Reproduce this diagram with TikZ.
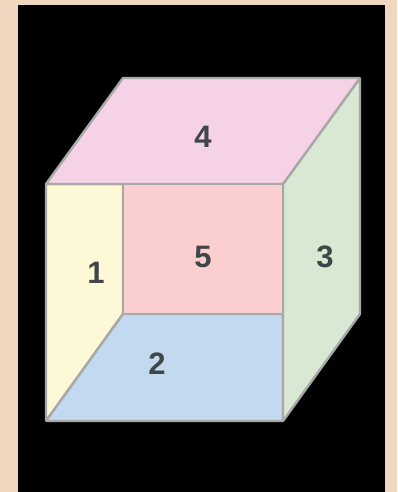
\documentclass[tikz,border=0pt]{standalone}
\usepackage{fontspec}
\setmainfont{Liberation Sans}
\definecolor{page}{HTML}{F0D8C0}
\definecolor{edge}{HTML}{A8A8A8}
\definecolor{digit}{HTML}{3F4648}
\definecolor{faceone}{HTML}{FDF8D6}
\definecolor{facetwo}{HTML}{C3D9F0}
\definecolor{facethree}{HTML}{D8E8D2}
\definecolor{facefour}{HTML}{F5D2E5}
\definecolor{facefive}{HTML}{FBCFD0}
\tikzset{face/.style={draw=edge,line width=2.4pt,line join=bevel},
  facelabel/.style={text=digit,font=\fontsize{31}{31}\selectfont\bfseries,inner sep=0pt}}
\begin{document}
\begin{tikzpicture}[x=1pt,y=-1pt]
\useasboundingbox (0,0) rectangle (397,492);
\fill[page] (0,0) rectangle (397,492);
\fill[black] (18,5) rectangle (385,492);
\coordinate (ftl) at (46,184);\coordinate (ftr) at (283,184);
\coordinate (fbl) at (46,421);\coordinate (fbr) at (283,421);
\coordinate (btl) at (123,78);\coordinate (btr) at (360,78);
\coordinate (bbl) at (123,314);\coordinate (bbr) at (360,314);
\coordinate (itl) at (123,184);\coordinate (ibr) at (283,314);
\draw[face,fill=faceone] (ftl)--(itl)--(bbl)--(fbl)--cycle;
\draw[face,fill=facetwo] (bbl)--(ibr)--(fbr)--(fbl)--cycle;
\draw[face,fill=facethree] (ftr)--(btr)--(bbr)--(fbr)--cycle;
\draw[face,fill=facefour] (ftl)--(btl)--(btr)--(ftr)--cycle;
\draw[face,fill=facefive] (itl)--(ftr)--(ibr)--(bbl)--cycle;
\node[facelabel] (one) at (96,273) {1};
\node[facelabel] (two) at (157,364) {2};
\node[facelabel] (three) at (325,257) {3};
\node[facelabel] (four) at (203,137) {4};
\node[facelabel] (five) at (203,257) {5};
\end{tikzpicture}
\end{document}
